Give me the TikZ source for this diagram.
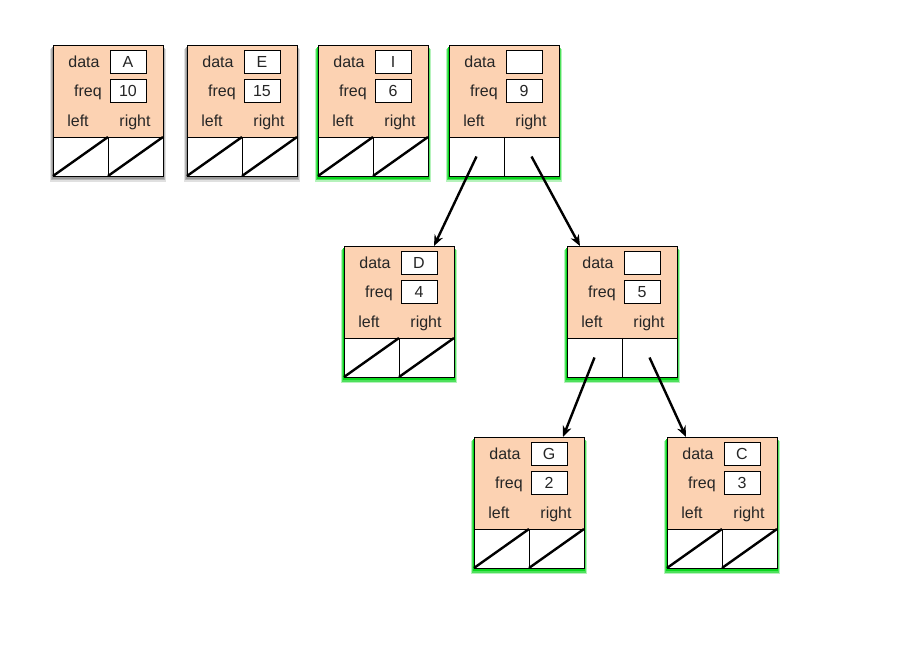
\documentclass[tikz,border=0pt]{standalone}
\usepackage{fontspec}
\setmainfont{Liberation Sans}
\usetikzlibrary{arrows.meta,calc}
\definecolor{peach}{RGB}{252,210,178}
\definecolor{glowgreen}{RGB}{10,215,30}
\tikzset{
  lbl/.style={font=\fontsize{16}{16}\selectfont, text=black!85, inner sep=0pt, text height=11.5pt, text depth=0.5pt},
  valbox/.style={draw, fill=white, line width=0.8pt, minimum width=36pt, minimum height=23pt, inner sep=0pt, font=\fontsize{16}{16}\selectfont, text=black!85, text height=11.5pt, text depth=0.5pt},
  outer/.style={draw, fill=white, line width=0.9pt, minimum width=110pt, minimum height=131pt, inner sep=0pt, anchor=north west},
  nullline/.style={line width=2.4pt},
  ptr/.style={line width=2.4pt, -{Stealth[length=11pt,width=9pt]}},
}
% name, x, y, data, freq, null(1/0), shadow colour
\newcommand\huffnode[7]{%
  \begin{scope}[shift={(#2,#3)}]
    \fill[#7, opacity=0.3] (-3,4) rectangle (112.5,137);
    \fill[#7, opacity=0.6] (-2,3) rectangle (111.5,135.5);
    \fill[#7] (-1,2) rectangle (110.5,134);
    \node[outer] (#1) at (0,0) {};
    \fill[peach] (0,0) rectangle (110,92);
    \draw[line width=0.9pt] (0,0) rectangle (110,131);
    \draw[line width=0.9pt] (0,92) -- (110,92) (55,92) -- (55,131);
    \node[lbl] (#1-dl) at (31,17) {data};
    \node[valbox] (#1-dv) at (75,17) {#4};
    \node[lbl] (#1-fl) at (35,46) {freq};
    \node[valbox] (#1-fv) at (75,46) {#5};
    \node[lbl] (#1-ll) at (25,76) {left};
    \node[lbl] (#1-rl) at (82,76) {right};
    \coordinate (#1-l) at (27.5,111.5);
    \coordinate (#1-r) at (82.5,111.5);
    \ifnum#6=1
      \draw[nullline] (0,131) -- (55,92) (55,131) -- (110,92);
    \fi
  \end{scope}}
\begin{document}
\begin{tikzpicture}[x=1pt,y=-1pt]
  \fill[white] (0,0) rectangle (903,647);
  \useasboundingbox (0,0) rectangle (903,647);
  \huffnode{A}{53}{45}{A}{10}{1}{black!40}
  \huffnode{E}{187}{45}{E}{15}{1}{black!40}
  \huffnode{I}{318}{45}{I}{6}{1}{glowgreen}
  \huffnode{N9}{449}{45}{}{9}{0}{glowgreen}
  \huffnode{D}{344}{246}{D}{4}{1}{glowgreen}
  \huffnode{N5}{567}{246}{}{5}{0}{glowgreen}
  \huffnode{G}{474}{437}{G}{2}{1}{glowgreen}
  \huffnode{C}{667}{437}{C}{3}{1}{glowgreen}
  \coordinate (D-in) at ($(D.north west)+(90,0)$);
  \coordinate (N5-in) at ($(N5.north west)+(13,0)$);
  \coordinate (G-in) at ($(G.north west)+(89,0)$);
  \coordinate (C-in) at ($(C.north west)+(19,0)$);
  \draw[ptr] (N9-l) -- (D-in);
  \draw[ptr] (N9-r) -- (N5-in);
  \draw[ptr] (N5-l) -- (G-in);
  \draw[ptr] (N5-r) -- (C-in);
\end{tikzpicture}
\end{document}
